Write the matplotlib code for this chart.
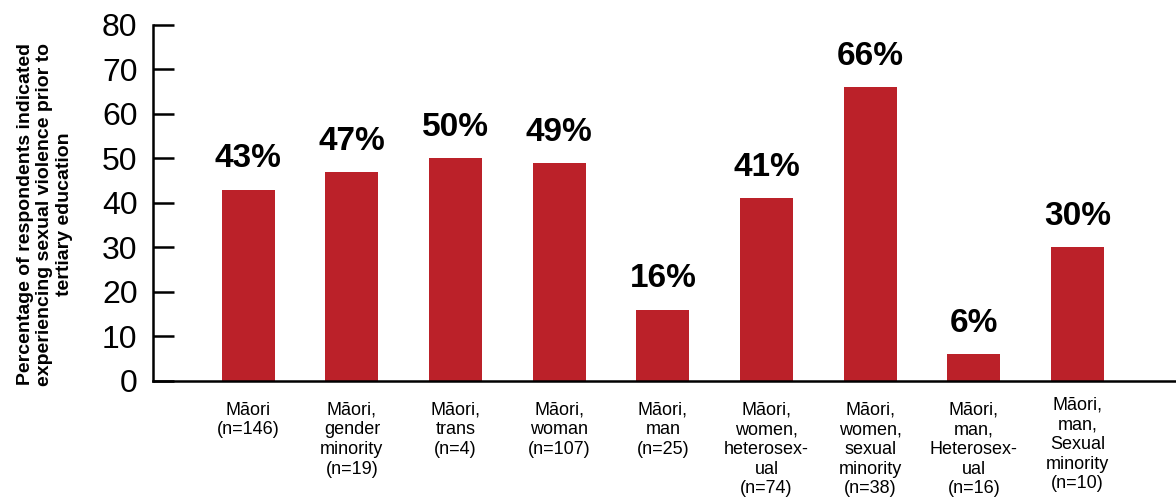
import matplotlib
matplotlib.use("Agg")
import matplotlib.pyplot as plt
from matplotlib.transforms import ScaledTranslation

categories = [
    "Māori\n(n=146)",
    "Māori,\ngender\nminority\n(n=19)",
    "Māori,\ntrans\n(n=4)",
    "Māori,\nwoman\n(n=107)",
    "Māori,\nman\n(n=25)",
    "Māori,\nwomen,\nheterosex-\nual\n(n=74)",
    "Māori,\nwomen,\nsexual\nminority\n(n=38)",
    "Māori,\nman,\nHeterosex-\nual\n(n=16)",
    "Māori,\nman,\nSexual\nminority\n(n=10)",
]
values = [43, 47, 50, 49, 16, 41, 66, 6, 30]
yticks = [0, 10, 20, 30, 40, 50, 60, 70, 80]
ylabel = "Percentage of respondents indicated\nexperiencing sexual violence prior to\ntertiary education"

bar_color = "#BB2129"

fig = plt.figure(figsize=(11.76, 4.98), dpi=100)
ax = fig.add_axes([0.130, 0.235, 0.870, 0.715])

x = list(range(len(values)))
ax.bar(x, values, width=0.51, color=bar_color, zorder=2)

for xi, v in zip(x, values):
    ax.annotate(f"{v}%", (xi, v), xytext=(0, 11), textcoords="offset points",
                ha="center", va="bottom", fontsize=24, fontweight="bold",
                family="Liberation Sans", color="black")

ax.set_xlim(-0.92, 8.95)
ax.set_ylim(0, 80)
ax.set_yticks(yticks)
ax.set_yticklabels([str(t) for t in yticks], fontsize=23, family="Liberation Sans")
ax.set_xticks(x)
ax.set_xticklabels(categories, fontsize=13, family="Liberation Sans", linespacing=1.2, va="top")
ax.tick_params(axis="x", length=0, pad=15)
ax.tick_params(axis="y", length=15, width=1.8, pad=11, direction="in")

# last label sits slightly higher in the reference
lbl = ax.get_xticklabels()[-1]
lbl.set_transform(lbl.get_transform() + ScaledTranslation(0, 5 / 100, fig.dpi_scale_trans))

for s in ["top", "right"]:
    ax.spines[s].set_visible(False)
for s in ["left", "bottom"]:
    ax.spines[s].set_linewidth(1.8)
    ax.spines[s].set_color("black")

fig.text(0.038, 0.570, ylabel, rotation=90, ha="center", va="center",
         fontsize=14, fontweight="bold", family="Liberation Sans", linespacing=1.2)

fig.savefig("out.png", dpi=100)
